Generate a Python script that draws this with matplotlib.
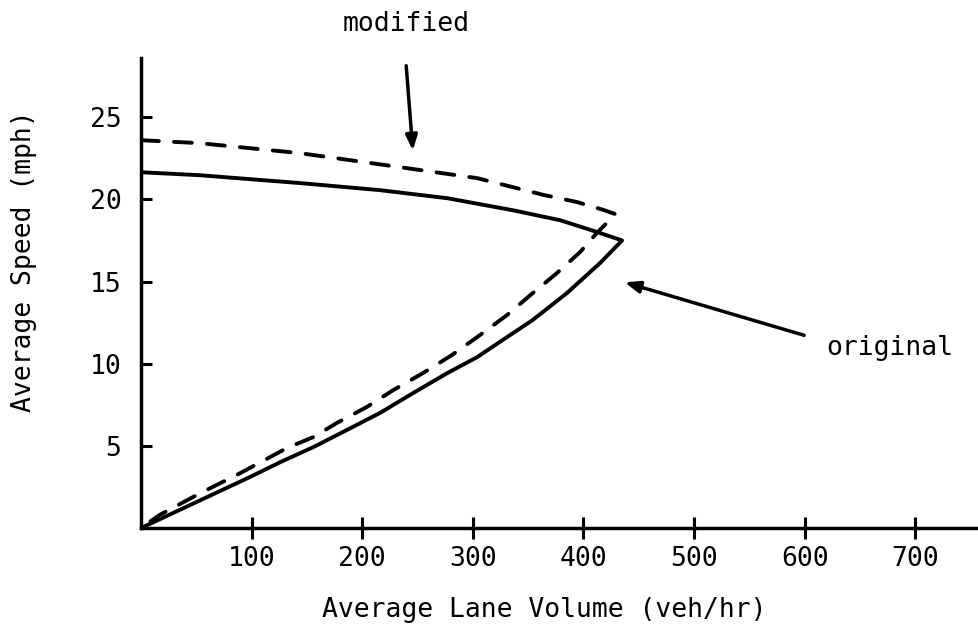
import numpy as np
import matplotlib.pyplot as plt

# Curva original (linea continua), desde la rama superior hasta el origen
vol_original = [0, 53, 144, 216, 277, 336, 379, 412, 435, 415, 385, 354,
                325, 304, 277, 246, 216, 186, 156, 126, 99, 53, 0]
vel_original = [21.65, 21.47, 20.99, 20.56, 20.07, 19.34, 18.73, 18.02, 17.5,
                16.12, 14.29, 12.65, 11.35, 10.40, 9.43, 8.21, 7.0, 5.96,
                4.93, 4.01, 3.12, 1.67, 0]

# Curva modificada (linea discontinua)
vol_modificada = [0, 53, 144, 234, 304, 364, 394, 418, 429, 412, 397, 376,
                  352, 331, 304, 281, 255, 228, 204, 177, 156, 132, 90, 53,
                  17, 0]
vel_modificada = [23.6, 23.42, 22.81, 21.96, 21.29, 20.27, 19.84, 19.36, 19.1,
                  17.94, 16.79, 15.51, 14.17, 12.96, 11.62, 10.52, 9.43, 8.39,
                  7.36, 6.39, 5.54, 4.87, 3.35, 2.1, 0.8, 0]

x_ticks = [100, 200, 300, 400, 500, 600, 700]
y_ticks = [5, 10, 15, 20, 25]

plt.rcParams['font.family'] = 'DejaVu Sans Mono'
fs = 19

fig = plt.figure(figsize=(9.79, 6.24), dpi=100)
ax = fig.add_axes([0.144, 0.1538, 0.856, 0.7532])

ax.plot(vol_original, vel_original, color='black', lw=2.8,
        solid_capstyle='round', solid_joinstyle='round')
ax.plot(vol_modificada, vel_modificada, color='black', lw=2.8,
        linestyle=(0, (4.6, 3.9)), dash_capstyle='round')

# Limites de los ejes
ax.set_xlim(0, 757.7)
ax.set_ylim(0, 28.6)

# Solo ejes izquierdo e inferior
ax.spines['top'].set_visible(False)
ax.spines['right'].set_visible(False)
ax.spines['left'].set_linewidth(2.5)
ax.spines['bottom'].set_linewidth(2.5)

ax.set_xticks(x_ticks)
ax.set_yticks(y_ticks)
ax.tick_params(axis='x', direction='inout', length=16, width=2.2, pad=5,
               labelsize=fs)
ax.tick_params(axis='y', direction='in', length=8, width=2.2, pad=14,
               labelsize=fs)

ax.set_xlabel('Average Lane Volume (veh/hr)', fontsize=fs)
ax.set_ylabel('Average Speed (mph)', fontsize=fs)
ax.xaxis.set_label_coords(0.481, -0.147)
ax.yaxis.set_label_coords(-0.124, 0.568)

# Flechas con las etiquetas
ax.annotate('', xy=(246, 22.8), xytext=(239.6, 28.3),
            arrowprops=dict(arrowstyle='-|>,head_length=0.9,head_width=0.35',
                            color='black', lw=2.5),
            annotation_clip=False)
ax.text(240, 30.7, 'modified', fontsize=fs, ha='center', va='center',
        clip_on=False)

ax.annotate('', xy=(434.9, 15.0), xytext=(602, 11.68),
            arrowprops=dict(arrowstyle='-|>,head_length=0.9,head_width=0.35',
                            color='black', lw=2.5))
ax.text(620, 10.95, 'original', fontsize=fs, ha='left', va='center')

plt.savefig('out.png', dpi=100)
